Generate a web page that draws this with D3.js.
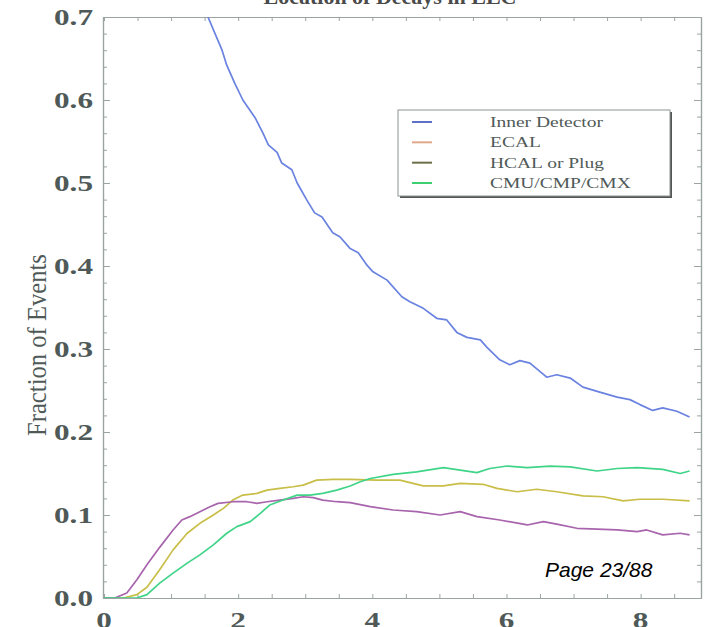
<!DOCTYPE html>
<html><head><meta charset="utf-8">
<script src="https://cdn.jsdelivr.net/npm/d3@7"></script>
<style>
html,body{margin:0;padding:0;background:#fff;}
svg{display:block;}
</style></head>
<body>
<svg id="chart" width="706" height="627"></svg>
<script>
// ---------- data ----------
const seriesNames = ["Inner Detector", "ECAL", "HCAL or Plug", "CMU/CMP/CMX"];
const lineColors = ["#6a82e0", "#a864ac", "#c8be48", "#40d488"];
const legendColors = ["#5f70c8", "#e0a888", "#6e6e48", "#3cd070"];

const innerX = [1.05,1.3,1.55,1.76,1.83,1.95,2.07,2.25,2.37,2.45,2.58,2.65,2.80,2.88,3.02,3.14,3.25,3.41,3.52,3.67,3.79,3.92,4.01,4.22,4.44,4.56,4.76,4.96,5.11,5.26,5.41,5.61,5.71,5.90,6.05,6.20,6.35,6.60,6.75,6.95,7.14,7.39,7.65,7.84,7.99,8.18,8.33,8.54,8.73];
const innerY = [0.86,0.77,0.70,0.660,0.642,0.620,0.600,0.579,0.560,0.546,0.537,0.524,0.516,0.500,0.480,0.464,0.459,0.440,0.435,0.421,0.416,0.401,0.393,0.383,0.363,0.357,0.349,0.337,0.335,0.320,0.314,0.311,0.302,0.287,0.281,0.286,0.283,0.266,0.269,0.265,0.254,0.248,0.242,0.239,0.233,0.226,0.229,0.225,0.218];

const ecalX = [0,0.16,0.34,0.49,0.64,0.83,1.03,1.16,1.28,1.43,1.58,1.70,1.92,2.13,2.28,2.43,2.62,2.82,2.97,3.12,3.26,3.47,3.67,3.97,4.31,4.66,5.01,5.31,5.56,5.90,6.31,6.55,6.75,7.05,7.35,7.65,7.95,8.09,8.33,8.59,8.73];
const ecalY = [0,0,0.006,0.022,0.040,0.061,0.082,0.094,0.098,0.104,0.110,0.114,0.116,0.116,0.114,0.116,0.118,0.120,0.122,0.121,0.118,0.116,0.115,0.110,0.106,0.104,0.100,0.104,0.098,0.094,0.088,0.092,0.089,0.084,0.083,0.082,0.080,0.082,0.076,0.078,0.076];

const hcalX = [0,0.29,0.49,0.64,0.83,1.03,1.24,1.43,1.63,1.78,1.92,2.07,2.28,2.43,2.62,2.82,2.97,3.17,3.41,3.67,4.07,4.41,4.76,5.06,5.31,5.65,5.86,6.16,6.45,6.75,7.14,7.44,7.74,7.99,8.33,8.73];
const hcalY = [0,0,0.004,0.013,0.034,0.058,0.078,0.090,0.100,0.108,0.118,0.124,0.126,0.130,0.132,0.134,0.136,0.142,0.143,0.143,0.142,0.142,0.135,0.135,0.138,0.137,0.132,0.128,0.131,0.128,0.123,0.122,0.117,0.119,0.119,0.117];

const cmuX = [0,0.49,0.64,0.83,1.03,1.24,1.43,1.63,1.83,1.98,2.18,2.33,2.47,2.67,2.88,3.07,3.26,3.47,3.67,3.82,3.97,4.31,4.66,5.06,5.31,5.56,5.75,6.01,6.31,6.65,6.95,7.35,7.65,7.95,8.33,8.59,8.73];
const cmuY = [0,0,0.004,0.018,0.030,0.042,0.052,0.064,0.078,0.086,0.092,0.102,0.112,0.118,0.124,0.124,0.126,0.130,0.135,0.140,0.144,0.149,0.152,0.157,0.154,0.151,0.156,0.159,0.157,0.159,0.158,0.153,0.156,0.157,0.155,0.150,0.153];

const xTickLabels = [0, 2, 4, 6, 8];
const yTickLabels = [0.0, 0.1, 0.2, 0.3, 0.4, 0.5, 0.6, 0.7];
const titleText = "Location of Decays in LLC";
const yAxisTitle = "Fraction of Events";
const pageText = "Page 23/88";

// ---------- layout ----------
const svg = d3.select("#chart");
const L = 104, R = 701, T = 17, B = 598;
const x = d3.scaleLinear().domain([0, 8.9]).range([L, R]);
const y = d3.scaleLinear().domain([0, 0.7]).range([B, T]);

const axisColor = "#9aa4a2";
const labelColor = "#4f5a58";

svg.append("defs").append("clipPath").attr("id", "plotclip")
  .append("rect").attr("x", L).attr("y", T).attr("width", R - L).attr("height", B - T);

// title (cut off at top, as in the reference)
svg.append("text").attr("x", 390).attr("y", 4)
  .attr("text-anchor", "middle")
  .attr("font-family", "Liberation Serif, serif").attr("font-size", 22).attr("font-weight", "bold")
  .attr("fill", "#4a4a4a").text(titleText);

// axes
const yMajor = d3.range(0, 0.701, 0.1);
const yMinor = d3.range(0, 0.701, 0.02);
const xMinor = d3.range(0, 8.9, 0.5);

function styleAxis(g) {
  g.select(".domain").attr("stroke", axisColor).attr("stroke-width", 1.2);
  g.selectAll(".tick line").attr("stroke", axisColor);
}
svg.append("g").attr("transform", `translate(${L - 1},0)`)
  .call(d3.axisRight(y).tickValues(yMinor).tickSize(4).tickFormat("").tickSizeOuter(0)).call(styleAxis);
svg.append("g").attr("transform", `translate(${R},0)`)
  .call(d3.axisLeft(y).tickValues(yMinor).tickSize(4).tickFormat("").tickSizeOuter(0)).call(styleAxis);
svg.append("g").attr("transform", `translate(${L - 1},0)`)
  .call(d3.axisRight(y).tickValues(yMajor).tickSize(7).tickFormat("").tickSizeOuter(0)).call(styleAxis);
svg.append("g").attr("transform", `translate(${R},0)`)
  .call(d3.axisLeft(y).tickValues(yMajor).tickSize(7).tickFormat("").tickSizeOuter(0)).call(styleAxis);
svg.append("g").attr("transform", `translate(0,${B})`)
  .call(d3.axisTop(x).tickValues(xMinor).tickSize(4).tickFormat("").tickSizeOuter(0)).call(styleAxis);
svg.append("g").attr("transform", `translate(0,${T})`)
  .call(d3.axisBottom(x).tickValues(xMinor).tickSize(4).tickFormat("").tickSizeOuter(0)).call(styleAxis);

// y tick labels
svg.append("g").selectAll("text").data(yTickLabels).join("text")
  .attr("transform", d => `translate(93,${y(d) + 8}) scale(1.3,1)`)
  .attr("text-anchor", "end")
  .attr("font-family", "Liberation Serif, serif").attr("font-size", 24).attr("font-weight", "bold")
  .attr("fill", labelColor).text(d => d.toFixed(1));

// x tick labels
svg.append("g").selectAll("text").data(xTickLabels).join("text")
  .attr("transform", d => `translate(${x(d)},628) scale(1.3,1)`)
  .attr("text-anchor", "middle")
  .attr("font-family", "Liberation Serif, serif").attr("font-size", 24).attr("font-weight", "bold")
  .attr("fill", labelColor).text(d => d);

// y axis title
svg.append("text")
  .attr("transform", "translate(46,345) rotate(-90) scale(1.12,1.2)")
  .attr("text-anchor", "middle")
  .attr("font-family", "Liberation Serif, serif").attr("font-size", 22)
  .attr("fill", labelColor).text(yAxisTitle);

// lines
const series = [
  {xs: innerX, ys: innerY},
  {xs: ecalX, ys: ecalY},
  {xs: hcalX, ys: hcalY},
  {xs: cmuX, ys: cmuY}
];
const line = d3.line().x(d => x(d[0])).y(d => y(d[1]));
const drawOrder = [2, 1, 3, 0];
const gLines = svg.append("g").attr("clip-path", "url(#plotclip)");
drawOrder.forEach(i => {
  const s = series[i];
  const pts = s.xs.map((v, k) => [v, s.ys[k]]);
  gLines.append("path").datum(pts)
    .attr("fill", "none").attr("stroke", lineColors[i]).attr("stroke-width", 1.7)
    .attr("stroke-linejoin", "round").attr("d", line);
});

// legend
const lg = svg.append("g");
const lx = 398, ly = 110, lw = 272, lh = 86;
lg.append("rect").attr("x", lx + 2).attr("y", ly + 2).attr("width", lw).attr("height", lh)
  .attr("fill", "#555");
lg.append("rect").attr("x", lx).attr("y", ly).attr("width", lw).attr("height", lh)
  .attr("fill", "#fff").attr("stroke", "#8c9494").attr("stroke-width", 1);
const legY = d3.scalePoint().domain(seriesNames).range([ly + 12, ly + 73]);
seriesNames.forEach((n, i) => {
  lg.append("line").attr("x1", 412).attr("x2", 432)
    .attr("y1", legY(n)).attr("y2", legY(n))
    .attr("stroke", legendColors[i]).attr("stroke-width", 2);
  lg.append("text").attr("transform", `translate(490,${legY(n) + 5}) scale(1.3,1)`)
    .attr("font-family", "Liberation Serif, serif").attr("font-size", 15)
    .attr("fill", "#505a58").text(n);
});

// page stamp
svg.append("text").attr("x", 545).attr("y", 577)
  .attr("font-family", "Liberation Sans, Arial, sans-serif").attr("font-style", "italic")
  .attr("font-size", 21).attr("fill", "#000").text(pageText);
</script>
</body></html>
